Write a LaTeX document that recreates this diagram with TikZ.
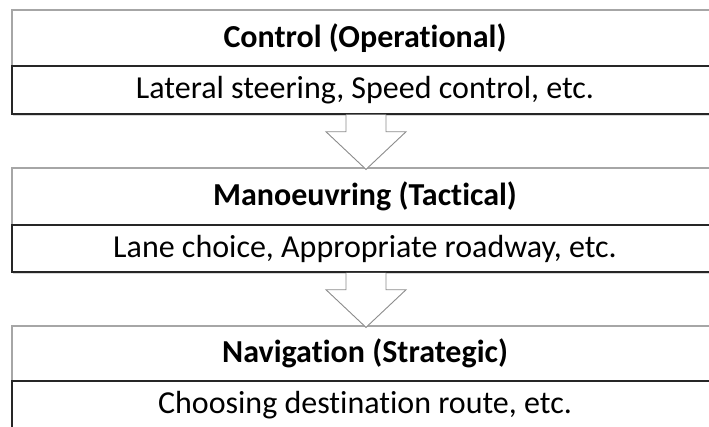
\documentclass[tikz,border=0pt]{standalone}
\usepackage{fontspec}
\setmainfont{Carlito}[Ligatures=NoCommon]
\usetikzlibrary{calc,shadows}
\tikzset{
  header/.style={draw=black!35, line width=1.2pt, fill=white, minimum width=706pt,
    minimum height=56pt, inner sep=0pt, font=\fontsize{32}{38}\selectfont\bfseries,
    drop shadow={shadow xshift=0.8pt, shadow yshift=-1.5pt, opacity=0.15}},
  content/.style={draw=black!85, line width=1.5pt, fill=white, minimum width=706pt,
    minimum height=48pt, inner sep=0pt, font=\fontsize{32}{38}\selectfont,
    drop shadow={shadow xshift=1pt, shadow yshift=-2pt, opacity=0.3}},
  blockarrow/.style={draw=black!45, line width=0.9pt, fill=white, line join=miter}
}
\newcommand{\downarrowshape}[2]{%
  \filldraw[blockarrow] ($(#1)+(-20,0)$) -- ($(#1)+(-20,-17)$) -- ($(#1)+(-40,-17)$)
    -- (#2) -- ($(#1)+(40,-17)$) -- ($(#1)+(20,-17)$) -- ($(#1)+(20,0)$);}
\begin{document}
\begin{tikzpicture}[x=1pt,y=1pt]
\useasboundingbox (0,0) rectangle (709,426);
\fill[white] (0,0) rectangle (709,426);

% Control level
\node[header]  (h1) at (365,388) {Control (Operational)};
\node[content] (c1) at (365,336) {Lateral steering, Speed control, etc.};

% Manoeuvring level
\node[header, minimum height=57pt] (h2) at (365,229.5) {Manoeuvring (Tactical)};
\node[content, minimum height=47pt] (c2) at (365,177.5) {Lane choice, Appropriate roadway, etc.};

% Navigation level
\node[header, minimum height=55pt] (h3) at (365,72.5) {Navigation (Strategic)};
\node[content] (c3) at (365,21) {Choosing destination route, etc.};

% Hollow arrows between the levels
\coordinate (a1) at ($(c1.south)+(1,0)$);
\coordinate (t1) at ($(h2.north)+(1,-2)$);
\downarrowshape{a1}{t1}
\coordinate (a2) at ($(c2.south)+(1,0)$);
\coordinate (t2) at ($(h3.north)+(1,-2)$);
\downarrowshape{a2}{t2}
\end{tikzpicture}
\end{document}
